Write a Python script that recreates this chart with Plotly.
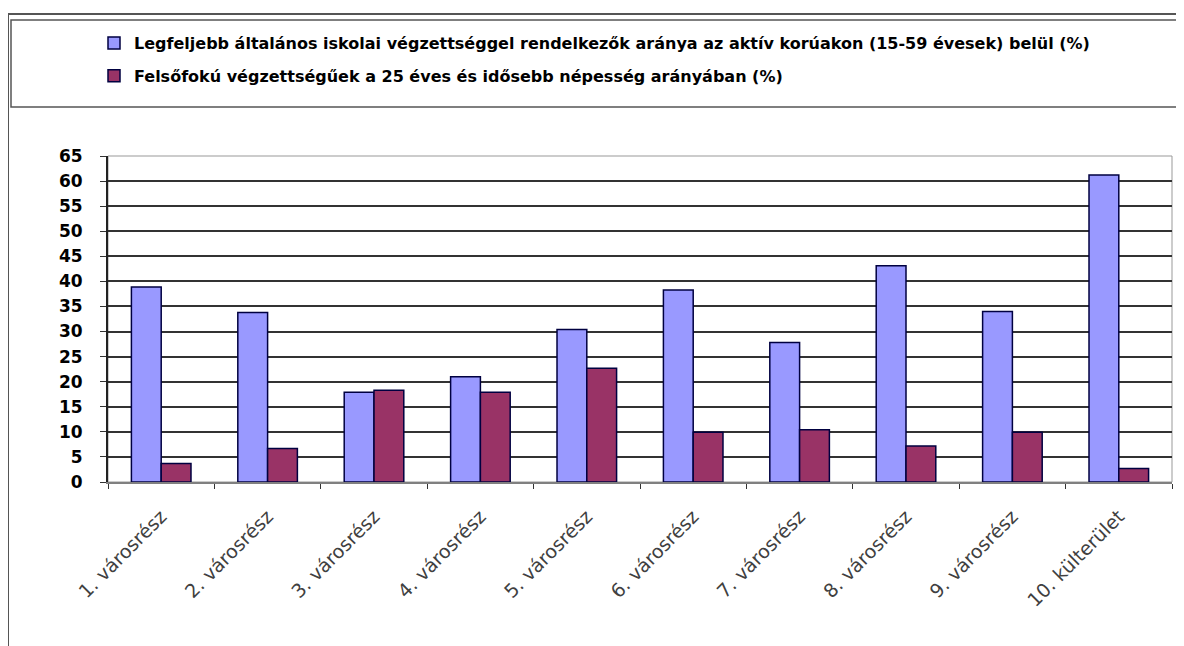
import plotly.graph_objects as go

categories = ["1. városrész", "2. városrész", "3. városrész", "4. városrész", "5. városrész",
              "6. városrész", "7. városrész", "8. városrész", "9. városrész", "10. külterület"]
series1_name = "Legfeljebb általános iskolai végzettséggel rendelkezők aránya az aktív korúakon (15-59 évesek) belül (%)"
series2_name = "Felsőfokú végzettségűek a 25 éves és idősebb népesség arányában (%)"
series1 = [38.9, 33.8, 17.9, 21.0, 30.4, 38.3, 27.8, 43.1, 34.0, 61.2]
series2 = [3.7, 6.7, 18.3, 17.9, 22.7, 9.9, 10.4, 7.2, 9.9, 2.7]
y_ticks = list(range(0, 70, 5))

# page is offset by the default 8px body margin
OFF = 8
W, H = 1184 - OFF, 646 - OFF
L, R, T, B = 108, 1172, 156, 482   # plot area in page pixels


def px(x):
    return (x - L) / (R - L)


def py(y):
    return (B - y) / (B - T)


fig = go.Figure()
fig.add_trace(go.Bar(x=categories, y=series1, name=series1_name, legendgroup="a",
                     marker=dict(color="#9999FF", line=dict(color="#000040", width=1.5))))
fig.add_trace(go.Bar(x=categories, y=series2, name=series2_name, legendgroup="b",
                     marker=dict(color="#993366", line=dict(color="#000040", width=1.5))))

shapes = [
    # outer frame
    dict(type="line", xref="paper", yref="paper", x0=px(8), x1=px(1200), y0=py(14), y1=py(14),
         line=dict(color="#555555", width=2)),
    dict(type="line", xref="paper", yref="paper", x0=px(8), x1=px(8), y0=py(14), y1=py(660),
         line=dict(color="#555555", width=2)),
    # legend box
    dict(type="rect", xref="paper", yref="paper", x0=px(11), x1=px(1200), y0=py(20), y1=py(107),
         line=dict(color="#555555", width=1.5)),
    # plot area border
    dict(type="rect", xref="paper", yref="paper", x0=0, x1=1, y0=0, y1=1,
         line=dict(color="#999999", width=1), layer="below"),
]

fig.update_layout(
    width=W, height=H,
    margin=dict(l=L - OFF, r=1184 - R, t=T - OFF, b=646 - B, autoexpand=False),
    paper_bgcolor="white", plot_bgcolor="white",
    barmode="group", bargap=0.44, bargroupgap=0,
    font=dict(family="DejaVu Sans, sans-serif", color="#000000"),
    shapes=shapes,
    showlegend=True,
    legend=dict(x=px(94), y=py(26), xanchor="left", yanchor="top",
                orientation="v", traceorder="grouped", itemwidth=30,
                font=dict(size=16, family="DejaVu Sans, sans-serif", color="#000000", weight="bold"),
                bgcolor="rgba(0,0,0,0)", tracegroupgap=9),
    xaxis=dict(type="category", tickangle=-45, tickson="boundaries", ticks="outside", ticklen=5,
               tickcolor="#333333", showline=True, linecolor="#808080", linewidth=2,
               tickfont=dict(size=19, family="DejaVu Sans, sans-serif", color="#404040"),
               ticklabelstandoff=14, showgrid=False),
    yaxis=dict(range=[0, 65], tickvals=y_ticks, ticks="outside", ticklen=6, tickcolor="#333333",
               showline=True, linecolor="#222222", linewidth=2,
               showgrid=True, gridcolor="#333333", gridwidth=2, zeroline=False,
               ticklabelstandoff=14,
               tickfont=dict(size=17, weight="bold", family="DejaVu Sans, sans-serif", color="#000000")),
)

fig.write_html("out.html")
